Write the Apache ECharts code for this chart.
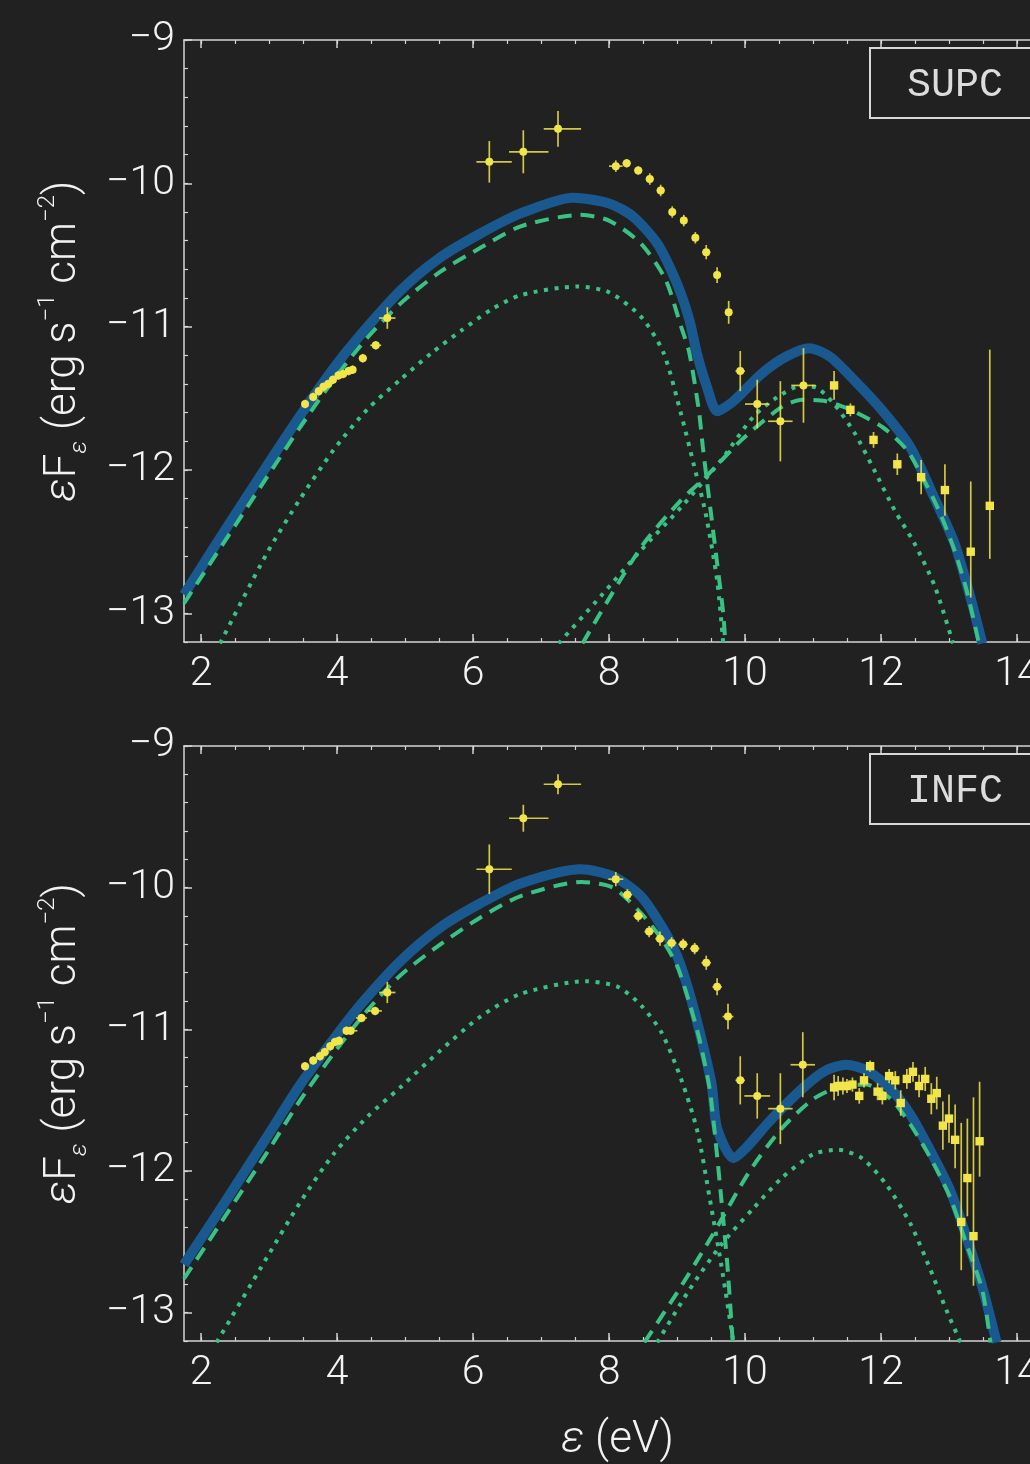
<!DOCTYPE html>
<html><head><meta charset="utf-8">
<script src="https://cdn.jsdelivr.net/npm/echarts@6.0.0/dist/echarts.min.js"></script>
<style>
html,body{margin:0;padding:0;background:#212121;overflow:hidden;width:1030px;height:1464px}
#c{width:1100px;height:1464px}
</style>
</head><body><div id="c"></div>
<script>
// ---------- axis ranges & tick labels ----------
const xMin = 1.75, xMax = 14.5, yMin = -13.2, yMax = -9;
const xMajorTicks = [2, 4, 6, 8, 10, 12, 14];
const yMajorTicks = [-13, -12, -11, -10, -9];
const xMinorTicks = [2, 2.5, 3, 3.5, 4, 4.5, 5, 5.5, 6, 6.5, 7, 7.5, 8, 8.5, 9, 9.5, 10, 10.5, 11, 11.5, 12, 12.5, 13, 13.5, 14];
const yMinorTicks = [-13.2, -13, -12.8, -12.6, -12.4, -12.2, -12, -11.8, -11.6, -11.4, -11.2, -11, -10.8, -10.6, -10.4, -10.2, -10, -9.8, -9.6, -9.4, -9.2, -9];
const panelLabels = ['SUPC', 'INFC'];

// ---------- SUPC (top) model curves [energy, log flux] ----------
const supcTotal = [[1.75,-12.87],[2.23,-12.51],[2.97,-11.97],[3.46,-11.62],[3.95,-11.29],[4.34,-11.06],[4.93,-10.75],[5.51,-10.52],[6.11,-10.35],[6.70,-10.21],[7.47,-10.10],[8.00,-10.14],[8.35,-10.23],[8.71,-10.42],[9.00,-10.70],[9.18,-10.95],[9.30,-11.20],[9.44,-11.42],[9.59,-11.59],[9.83,-11.52],[10.24,-11.33],[10.60,-11.21],[10.95,-11.15],[11.25,-11.21],[11.60,-11.37],[12.01,-11.58],[12.43,-11.84],[12.78,-12.19],[13.08,-12.51],[13.31,-12.88],[13.49,-13.21]];
const supcDashLow = [[1.75,-12.93],[2.97,-12.05],[3.46,-11.70],[3.95,-11.37],[4.44,-11.08],[4.93,-10.84],[5.51,-10.62],[6.11,-10.45],[6.70,-10.30],[7.58,-10.22],[8.00,-10.26],[8.47,-10.42],[8.83,-10.67],[9.06,-11.00],[9.18,-11.18],[9.32,-11.58],[9.38,-11.84],[9.47,-12.19],[9.59,-12.65],[9.68,-13.00],[9.71,-13.21]];
const supcDotLow = [[2.28,-13.21],[2.97,-12.58],[3.46,-12.20],[3.95,-11.86],[4.44,-11.58],[4.93,-11.37],[5.40,-11.18],[5.82,-11.03],[6.27,-10.88],[6.70,-10.78],[7.53,-10.72],[8.00,-10.76],[8.47,-10.93],[8.80,-11.18],[9.06,-11.61],[9.24,-11.95],[9.42,-12.30],[9.59,-12.77],[9.68,-13.21]];
const supcDashHigh = [[7.61,-13.21],[8.47,-12.54],[9.06,-12.21],[9.42,-12.05],[9.95,-11.79],[10.54,-11.56],[10.84,-11.51],[11.19,-11.52],[11.55,-11.58],[12.02,-11.70],[12.38,-11.86],[12.61,-12.05],[12.85,-12.28],[13.08,-12.56],[13.26,-12.84],[13.44,-13.21]];
const supcDotHigh = [[7.26,-13.21],[7.88,-12.88],[8.47,-12.56],[9.06,-12.26],[9.65,-11.93],[10.12,-11.63],[10.48,-11.49],[10.84,-11.41],[11.07,-11.43],[11.31,-11.54],[11.61,-11.74],[11.90,-12.00],[12.20,-12.28],[12.49,-12.51],[12.79,-12.81],[13.06,-13.21]];

// ---------- INFC (bottom) model curves ----------
const infcTotal = [[1.75,-12.66],[2.23,-12.31],[2.97,-11.76],[3.46,-11.39],[3.95,-11.07],[4.34,-10.83],[4.93,-10.52],[5.52,-10.28],[6.11,-10.11],[6.70,-9.97],[7.59,-9.87],[8.06,-9.92],[8.47,-10.06],[8.77,-10.27],[9.00,-10.48],[9.18,-10.74],[9.36,-11.07],[9.51,-11.39],[9.59,-11.70],[9.83,-11.91],[10.01,-11.84],[10.36,-11.65],[10.84,-11.42],[11.19,-11.29],[11.49,-11.25],[11.79,-11.29],[12.14,-11.42],[12.43,-11.60],[12.73,-11.86],[13.02,-12.14],[13.26,-12.47],[13.49,-12.82],[13.70,-13.21]];
const infcDashLow = [[1.75,-12.76],[2.97,-11.87],[3.46,-11.50],[3.95,-11.17],[4.44,-10.87],[4.93,-10.62],[5.52,-10.40],[6.11,-10.21],[6.70,-10.06],[7.59,-9.96],[8.06,-10.00],[8.47,-10.18],[8.77,-10.36],[9.00,-10.55],[9.18,-10.81],[9.33,-11.07],[9.48,-11.42],[9.57,-11.80],[9.65,-12.19],[9.74,-12.66],[9.82,-13.21]];
const infcDotLow = [[2.23,-13.21],[2.97,-12.61],[3.46,-12.22],[3.95,-11.88],[4.44,-11.62],[4.93,-11.41],[5.52,-11.15],[6.11,-10.91],[6.70,-10.75],[7.65,-10.66],[8.13,-10.70],[8.47,-10.83],[8.77,-11.02],[9.06,-11.35],[9.30,-11.72],[9.48,-12.19],[9.65,-12.66],[9.83,-13.21]];
const infcDashHigh = [[8.52,-13.21],[9.00,-12.86],[9.50,-12.47],[10.07,-12.00],[10.54,-11.70],[11.01,-11.49],[11.43,-11.40],[11.78,-11.39],[12.14,-11.49],[12.43,-11.67],[12.73,-11.91],[13.02,-12.19],[13.26,-12.52],[13.49,-12.84],[13.61,-13.21]];
const infcDotHigh = [[8.71,-13.21],[9.18,-12.84],[9.65,-12.52],[10.13,-12.26],[10.54,-12.05],[11.01,-11.88],[11.37,-11.85],[11.72,-11.91],[12.07,-12.09],[12.43,-12.37],[12.73,-12.70],[12.96,-12.98],[13.17,-13.21]];

// ---------- observed points [x, y, xErrLow, xErrHigh, yErrLow, yErrHigh] ----------
const supcRound = [
 [3.53,-11.54,0.05,0.05,0.03,0.03],[3.65,-11.49,0.05,0.05,0.03,0.03],[3.73,-11.45,0.05,0.05,0.03,0.03],
 [3.80,-11.42,0.05,0.05,0.03,0.03],[3.87,-11.40,0.05,0.05,0.03,0.03],[3.94,-11.37,0.05,0.05,0.03,0.03],
 [4.02,-11.34,0.05,0.05,0.03,0.03],[4.09,-11.33,0.05,0.05,0.03,0.03],[4.17,-11.31,0.05,0.05,0.03,0.03],
 [4.23,-11.30,0.05,0.05,0.03,0.03],[4.38,-11.22,0.06,0.06,0.03,0.03],[4.57,-11.13,0.08,0.08,0.03,0.03],
 [4.74,-10.94,0.12,0.12,0.075,0.075],
 [6.24,-9.85,0.19,0.33,0.145,0.145],[6.74,-9.78,0.21,0.37,0.15,0.15],[7.25,-9.62,0.21,0.34,0.125,0.125],
 [8.10,-9.88,0.10,0.10,0.04,0.04],[8.26,-9.86,0.06,0.06,0.03,0.03],[8.43,-9.91,0.06,0.06,0.03,0.03],
 [8.60,-9.97,0.06,0.06,0.04,0.04],[8.76,-10.05,0.06,0.06,0.04,0.04],[8.93,-10.20,0.05,0.05,0.04,0.04],
 [9.10,-10.26,0.05,0.05,0.04,0.04],[9.27,-10.38,0.05,0.05,0.04,0.04],[9.43,-10.48,0.06,0.06,0.05,0.05],
 [9.59,-10.64,0.05,0.05,0.055,0.055],[9.76,-10.90,0.04,0.04,0.08,0.08],
 [9.93,-11.31,0.07,0.07,0.14,0.14],[10.18,-11.54,0.18,0.18,0.17,0.17],[10.52,-11.66,0.18,0.18,0.28,0.28],
 [10.86,-11.41,0.18,0.18,0.26,0.26]
];
const supcSquare = [
 [11.31,-11.41,0,0,0.10,0.10],[11.55,-11.58,0,0,0.045,0.045],[11.89,-11.79,0,0,0.055,0.055],
 [12.24,-11.96,0,0,0.075,0.075],[12.59,-12.05,0,0,0.12,0.12],[12.94,-12.14,0,0,0.18,0.18],
 [13.32,-12.57,0,0,0.32,0.49],[13.60,-12.25,0,0,0.37,1.09]
];
const infcRound = [
 [3.53,-11.26,0.05,0.05,0.03,0.03],[3.65,-11.22,0.05,0.05,0.03,0.03],[3.75,-11.19,0.05,0.05,0.03,0.03],
 [3.82,-11.16,0.05,0.05,0.03,0.03],[3.90,-11.12,0.05,0.05,0.03,0.03],[3.97,-11.09,0.05,0.05,0.03,0.03],
 [4.03,-11.08,0.05,0.05,0.03,0.03],[4.14,-11.01,0.05,0.05,0.03,0.03],[4.20,-11.01,0.10,0.10,0.03,0.03],
 [4.36,-10.92,0.08,0.08,0.03,0.03],[4.56,-10.87,0.10,0.10,0.03,0.03],[4.74,-10.74,0.12,0.12,0.075,0.075],
 [6.24,-9.87,0.19,0.33,0.175,0.175],[6.74,-9.51,0.21,0.37,0.095,0.095],[7.25,-9.27,0.21,0.34,0.07,0.07],
 [8.10,-9.94,0.11,0.11,0.05,0.05],[8.27,-10.05,0.07,0.07,0.04,0.04],[8.43,-10.20,0.07,0.07,0.04,0.04],
 [8.59,-10.31,0.07,0.07,0.04,0.04],[8.75,-10.36,0.07,0.07,0.05,0.05],[8.92,-10.39,0.07,0.07,0.04,0.04],
 [9.09,-10.40,0.07,0.07,0.04,0.04],[9.26,-10.43,0.07,0.07,0.04,0.04],[9.43,-10.53,0.07,0.07,0.05,0.05],
 [9.59,-10.70,0.07,0.07,0.06,0.06],[9.75,-10.91,0.08,0.08,0.09,0.09],
 [9.93,-11.36,0.07,0.07,0.17,0.17],[10.18,-11.47,0.19,0.19,0.16,0.16],[10.52,-11.56,0.18,0.18,0.25,0.25],
 [10.85,-11.25,0.18,0.18,0.23,0.23]
];
const infcSquare = [
 [11.31,-11.41,0,0,0.09,0.09],[11.37,-11.40,0,0,0.07,0.07],[11.44,-11.40,0,0,0.06,0.06],
 [11.50,-11.40,0,0,0.05,0.05],[11.58,-11.39,0,0,0.05,0.05],[11.68,-11.47,0,0,0.055,0.055],
 [11.75,-11.36,0,0,0.05,0.05],[11.84,-11.26,0,0,0.04,0.04],[11.95,-11.44,0,0,0.06,0.06],
 [12.02,-11.47,0,0,0.06,0.06],[12.12,-11.33,0,0,0.05,0.05],[12.21,-11.36,0,0,0.065,0.065],
 [12.29,-11.52,0,0,0.09,0.09],[12.38,-11.35,0,0,0.07,0.07],[12.47,-11.30,0,0,0.07,0.07],
 [12.56,-11.40,0,0,0.08,0.08],[12.65,-11.35,0,0,0.085,0.085],[12.74,-11.49,0,0,0.11,0.11],
 [12.82,-11.45,0,0,0.115,0.115],[12.91,-11.68,0,0,0.17,0.17],[13.00,-11.63,0,0,0.17,0.17],
 [13.09,-11.78,0,0,0.20,0.25],[13.18,-12.36,0,0,0.34,0.70],[13.27,-12.05,0,0,0.27,0.42],
 [13.36,-12.46,0,0,0.35,0.98],[13.45,-11.79,0,0,0.25,0.42]
];

// ---------- styling ----------
const BG = '#212121', AX = '#d4d4d4', TXT = '#f2f2f2';
const BLUE = '#19598f', GREEN = '#38c283', YEL = '#f1e54a';
const FONT = 'Roboto';
const grids = [
  {left: 184, top: 40, width: 867, height: 602},
  {left: 184, top: 746, width: 867, height: 600}
];
const minus = v => (v < 0 ? '\u2212' : '') + Math.abs(v);

const xAxes = [], yAxes = [], mainX = [], mainY = [];
grids.forEach((g, gi) => {
  const base = {type: 'value', gridIndex: gi, min: xMin, max: xMax, splitLine: {show: false}};
  mainX.push(xAxes.length);
  xAxes.push(Object.assign({}, base, {
    position: 'bottom',
    axisLine: {show: true, onZero: false, lineStyle: {color: AX, width: 1.5}},
    axisTick: {show: true, inside: true, length: 8, customValues: xMajorTicks, lineStyle: {color: AX, width: 1.5}},
    axisLabel: {show: true, customValues: xMajorTicks, margin: 12, color: TXT, fontSize: 41, fontFamily: FONT, fontWeight: 300},
    name: gi === 1 ? '{it|\u03b5} (eV)' : '',
    nameLocation: 'middle', nameGap: 78,
    nameTextStyle: {color: TXT, fontSize: 44, fontFamily: FONT, fontWeight: 300,
      rich: {it: {fontSize: 44, fontStyle: 'italic', fontFamily: FONT, fontWeight: 300, color: TXT}}}
  }));
  xAxes.push(Object.assign({}, base, {
    position: 'bottom', axisLine: {show: false, onZero: false},
    axisTick: {show: true, inside: true, length: 4, customValues: xMinorTicks, lineStyle: {color: AX, width: 1.2}},
    axisLabel: {show: false}
  }));
  xAxes.push(Object.assign({}, base, {
    position: 'top',
    axisLine: {show: true, onZero: false, lineStyle: {color: AX, width: 1.5}},
    axisTick: {show: true, inside: true, length: 8, customValues: xMajorTicks, lineStyle: {color: AX, width: 1.5}},
    axisLabel: {show: false}
  }));
  xAxes.push(Object.assign({}, base, {
    position: 'top', axisLine: {show: false, onZero: false},
    axisTick: {show: true, inside: true, length: 4, customValues: xMinorTicks, lineStyle: {color: AX, width: 1.2}},
    axisLabel: {show: false}
  }));
  const ybase = {type: 'value', gridIndex: gi, min: yMin, max: yMax, splitLine: {show: false}, position: 'left'};
  mainY.push(yAxes.length);
  yAxes.push(Object.assign({}, ybase, {
    axisLine: {show: true, onZero: false, lineStyle: {color: AX, width: 1.5}},
    axisTick: {show: true, inside: true, length: 8, customValues: yMajorTicks, lineStyle: {color: AX, width: 1.5}},
    axisLabel: {show: true, customValues: yMajorTicks, margin: 9, color: TXT, fontSize: 41, fontFamily: FONT, fontWeight: 300, formatter: minus},
    name: '{it|\u03b5}F{sub|\u03b5} (erg s{sup|\u22121} cm{sup|\u22122})',
    nameLocation: 'middle', nameGap: 92, nameRotate: 90,
    nameTextStyle: {color: TXT, fontSize: 44, fontFamily: FONT, fontWeight: 300, lineHeight: 56,
      rich: {
        it: {fontSize: 44, fontStyle: 'italic', fontFamily: FONT, fontWeight: 300, color: TXT, lineHeight: 56},
        sub: {fontSize: 24, fontStyle: 'italic', fontFamily: FONT, fontWeight: 300, color: TXT, verticalAlign: 'bottom', lineHeight: 46},
        sup: {fontSize: 24, fontFamily: FONT, fontWeight: 300, color: TXT, verticalAlign: 'top', lineHeight: 56}
      }}
  }));
  yAxes.push(Object.assign({}, ybase, {
    axisLine: {show: false, onZero: false},
    axisTick: {show: true, inside: true, length: 4, customValues: yMinorTicks, lineStyle: {color: AX, width: 1.2}},
    axisLabel: {show: false}
  }));
});

function curve(data, gi, kind) {
  const ls = kind === 'total' ? {color: BLUE, width: 10, type: 'solid'}
    : kind === 'dash' ? {color: GREEN, width: 4, type: [14, 9], cap: 'butt'}
    : {color: GREEN, width: 4, type: [4, 6.5], cap: 'butt'};
  return {type: 'line', xAxisIndex: mainX[gi], yAxisIndex: mainY[gi], data: data,
    showSymbol: false, smooth: 0.25, clip: true, lineStyle: ls, z: kind === 'total' ? 2 : 3,
    silent: true, animation: false};
}

function errSeries(data, gi, shape) {
  return {type: 'custom', xAxisIndex: mainX[gi], yAxisIndex: mainY[gi], data: data, z: 6,
    encode: {x: 0, y: 1}, animation: false, silent: true,
    renderItem: function (params, api) {
      const x = api.value(0), y = api.value(1);
      const c = api.coord([x, y]);
      const xl = api.coord([x - api.value(2), y]), xh = api.coord([x + api.value(3), y]);
      const yl = api.coord([x, y - api.value(4)]), yh = api.coord([x, y + api.value(5)]);
      const bar = {stroke: YEL, lineWidth: 1.7, opacity: 0.85};
      const ch = [
        {type: 'line', shape: {x1: xl[0], y1: xl[1], x2: xh[0], y2: xh[1]}, style: bar},
        {type: 'line', shape: {x1: yl[0], y1: yl[1], x2: yh[0], y2: yh[1]}, style: bar}
      ];
      if (shape === 'square') {
        ch.push({type: 'rect', shape: {x: c[0] - 4.2, y: c[1] - 4.2, width: 8.4, height: 8.4}, style: {fill: YEL}});
      } else {
        ch.push({type: 'circle', shape: {cx: c[0], cy: c[1], r: 4}, style: {fill: YEL}});
      }
      return {type: 'group', children: ch};
    }};
}

const series = [
  curve(supcTotal, 0, 'total'), curve(supcDashLow, 0, 'dash'), curve(supcDotLow, 0, 'dot'),
  curve(supcDashHigh, 0, 'dash'), curve(supcDotHigh, 0, 'dot'),
  errSeries(supcRound, 0, 'round'), errSeries(supcSquare, 0, 'square'),
  curve(infcTotal, 1, 'total'), curve(infcDashLow, 1, 'dash'), curve(infcDotLow, 1, 'dot'),
  curve(infcDashHigh, 1, 'dash'), curve(infcDotHigh, 1, 'dot'),
  errSeries(infcRound, 1, 'round'), errSeries(infcSquare, 1, 'square')
];

const boxTops = [48, 754];
const graphic = [];
panelLabels.forEach((t, i) => {
  graphic.push({type: 'rect', shape: {x: 870, y: boxTops[i], width: 220, height: 70},
    style: {fill: 'none', stroke: '#d8d8d8', lineWidth: 2}, z: 10});
  graphic.push({type: 'text', style: {x: 955, y: boxTops[i] + 37, text: t, align: 'center', verticalAlign: 'middle',
    fontSize: 40, fontFamily: 'Liberation Mono', fill: '#dcdcdc'}, z: 11});
});

const chart = echarts.init(document.getElementById('c'), null, {renderer: 'canvas'});
chart.setOption({
  backgroundColor: BG,
  animation: false,
  grid: grids,
  xAxis: xAxes,
  yAxis: yAxes,
  series: series,
  graphic: graphic
});
</script></body></html>
